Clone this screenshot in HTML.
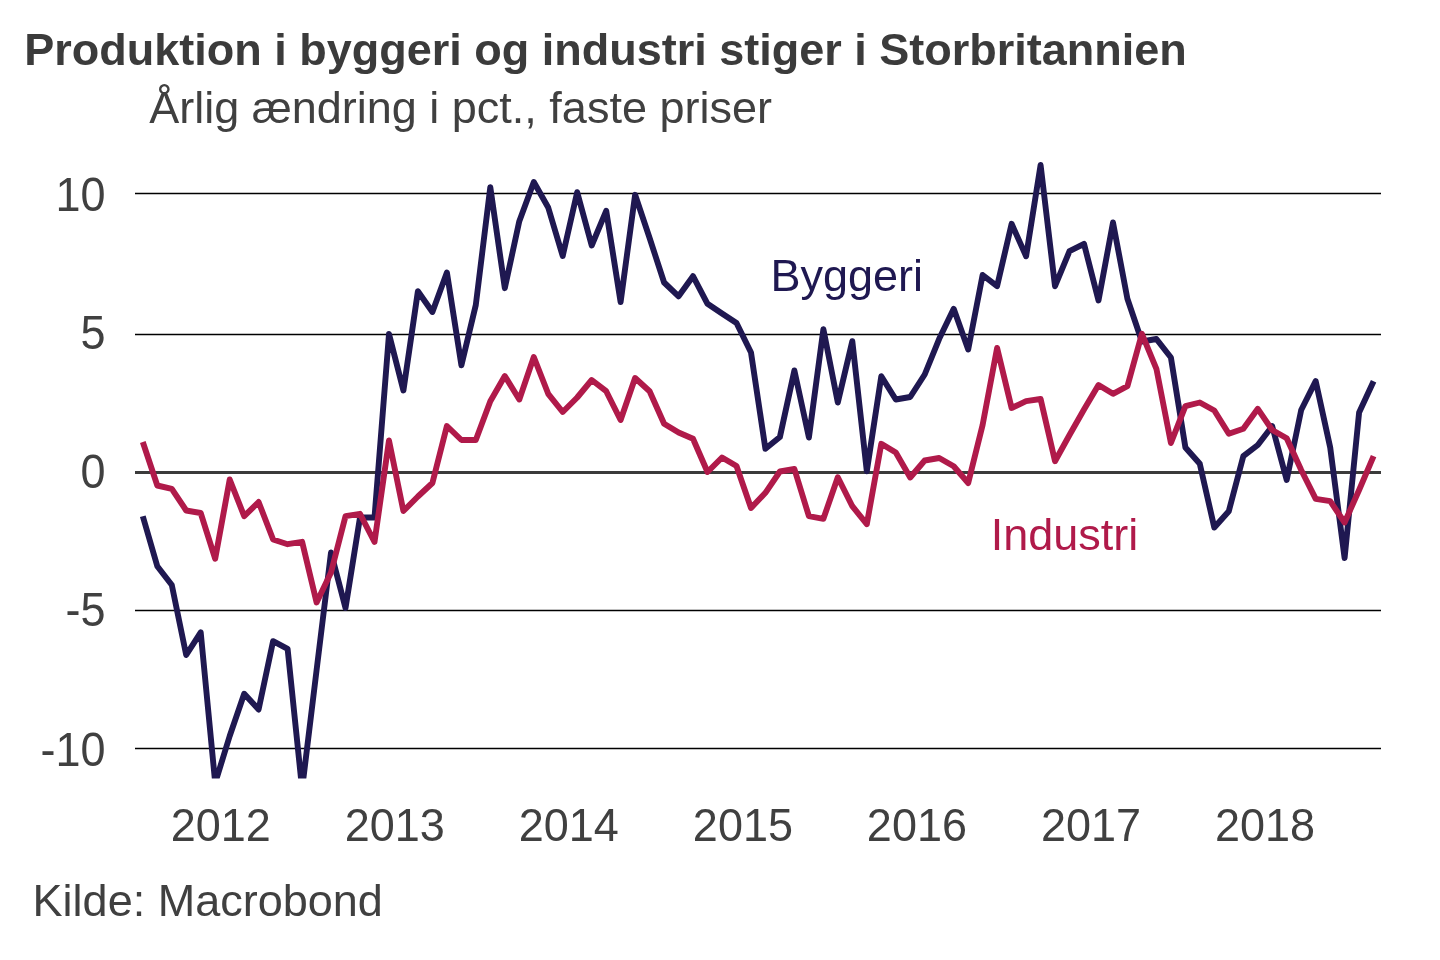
<!DOCTYPE html>
<html lang="da">
<head>
<meta charset="utf-8">
<title>Produktion i byggeri og industri stiger i Storbritannien</title>
<style>
html,body{margin:0;padding:0;background:#fff;}
body{width:1440px;height:960px;overflow:hidden;font-family:"Liberation Sans",sans-serif;}
svg{display:block;}
text{font-family:"Liberation Sans",sans-serif;}
</style>
</head>
<body>
<svg width="1440" height="960" viewBox="0 0 1440 960">
<rect width="1440" height="960" fill="#ffffff"/>
<defs><clipPath id="plot"><rect x="130" y="150" width="1260" height="628.4"/></clipPath></defs>
<text x="24.2" y="65.3" font-size="45" font-weight="bold" fill="#3b3b3b" id="title">Produktion i byggeri og industri stiger i Storbritannien</text>
<text x="149.2" y="122.8" font-size="45" fill="#404040" id="sub">Årlig ændring i pct., faste priser</text>
<line x1="135" x2="1381" y1="193.5" y2="193.5" stroke="#000" stroke-width="1.4"/>
<text transform="translate(105.5,211.00) scale(1,1.065)" font-size="45" fill="#404040" text-anchor="end" class="yl">10</text>
<line x1="135" x2="1381" y1="334.5" y2="334.5" stroke="#000" stroke-width="1.4"/>
<text transform="translate(105.5,349.10) scale(1,1.065)" font-size="45" fill="#404040" text-anchor="end" class="yl">5</text>
<line x1="135" x2="1381" y1="472.5" y2="472.5" stroke="#3b3b3b" stroke-width="3"/>
<text transform="translate(105.5,487.70) scale(1,1.065)" font-size="45" fill="#404040" text-anchor="end" class="yl">0</text>
<line x1="135" x2="1381" y1="610.5" y2="610.5" stroke="#000" stroke-width="1.4"/>
<text transform="translate(105.5,625.75) scale(1,1.065)" font-size="45" fill="#404040" text-anchor="end" class="yl">-5</text>
<line x1="135" x2="1381" y1="748.5" y2="748.5" stroke="#000" stroke-width="1.4"/>
<text transform="translate(105.5,766.40) scale(1,1.065)" font-size="45" fill="#404040" text-anchor="end" class="yl">-10</text>
<text transform="translate(220.7,840.7) scale(1,1.04)" font-size="45" fill="#404040" text-anchor="middle" class="xl">2012</text>
<text transform="translate(394.8,840.7) scale(1,1.04)" font-size="45" fill="#404040" text-anchor="middle" class="xl">2013</text>
<text transform="translate(568.8,840.7) scale(1,1.04)" font-size="45" fill="#404040" text-anchor="middle" class="xl">2014</text>
<text transform="translate(742.9,840.7) scale(1,1.04)" font-size="45" fill="#404040" text-anchor="middle" class="xl">2015</text>
<text transform="translate(916.9,840.7) scale(1,1.04)" font-size="45" fill="#404040" text-anchor="middle" class="xl">2016</text>
<text transform="translate(1091.0,840.7) scale(1,1.04)" font-size="45" fill="#404040" text-anchor="middle" class="xl">2017</text>
<text transform="translate(1265.0,840.7) scale(1,1.04)" font-size="45" fill="#404040" text-anchor="middle" class="xl">2018</text>
<g clip-path="url(#plot)" fill="none" stroke-width="5.9" stroke-linejoin="round" stroke-linecap="butt">
<polyline stroke="#1f1851" points="142.8,516.2 157.3,566.2 171.8,585.0 186.2,655.0 200.7,632.3 215.2,783.0 229.7,736.0 244.2,693.8 258.6,709.5 273.1,641.2 287.6,648.8 302.1,789.0 316.6,670.0 331.0,552.5 345.5,608.0 360.0,517.5 374.5,517.5 389.0,334.0 403.4,390.5 417.9,291.2 432.4,312.0 446.9,272.5 461.4,365.3 475.8,305.0 490.3,187.2 504.8,288.2 519.3,221.2 533.8,182.0 548.2,207.5 562.7,256.0 577.2,192.2 591.7,245.5 606.2,210.8 620.6,302.0 635.1,194.8 649.6,238.0 664.1,282.5 678.6,296.3 693.0,276.2 707.5,303.8 722.0,313.5 736.5,323.0 751.0,352.5 765.4,448.8 779.9,437.0 794.4,370.5 808.9,437.5 823.4,329.2 837.8,402.5 852.3,341.2 866.8,471.2 881.3,376.2 895.8,399.5 910.2,397.0 924.7,374.5 939.2,338.8 953.7,308.8 968.2,349.5 982.6,275.0 997.1,286.2 1011.6,223.8 1026.1,256.2 1040.6,165.0 1055.0,286.2 1069.5,251.2 1084.0,243.8 1098.5,300.5 1113.0,222.5 1127.4,298.8 1141.9,341.5 1156.4,339.0 1170.9,357.5 1185.4,447.5 1199.8,463.8 1214.3,527.5 1228.8,511.2 1243.3,456.2 1257.8,445.0 1272.2,426.2 1286.7,480.0 1301.2,410.0 1315.7,381.2 1330.2,447.5 1344.6,558.0 1359.1,412.5 1373.6,381.2"/>
<polyline stroke="#b01a4a" points="142.8,442.0 157.3,485.5 171.8,488.8 186.2,510.5 200.7,513.0 215.2,558.8 229.7,479.5 244.2,516.2 258.6,502.0 273.1,539.5 287.6,544.2 302.1,541.8 316.6,602.5 331.0,572.5 345.5,516.2 360.0,513.8 374.5,542.0 389.0,440.5 403.4,511.0 417.9,496.5 432.4,483.0 446.9,426.0 461.4,440.0 475.8,440.0 490.3,401.2 504.8,376.0 519.3,399.5 533.8,357.0 548.2,393.8 562.7,412.0 577.2,397.5 591.7,380.0 606.2,391.2 620.6,420.0 635.1,378.0 649.6,391.2 664.1,423.8 678.6,432.5 693.0,438.8 707.5,472.0 722.0,457.5 736.5,466.0 751.0,508.0 765.4,492.8 779.9,471.5 794.4,469.0 808.9,516.2 823.4,518.8 837.8,477.2 852.3,506.2 866.8,524.2 881.3,443.8 895.8,452.5 910.2,477.5 924.7,460.5 939.2,458.0 953.7,466.2 968.2,483.0 982.6,425.0 997.1,348.0 1011.6,408.0 1026.1,401.2 1040.6,399.0 1055.0,461.2 1069.5,435.0 1084.0,409.5 1098.5,385.0 1113.0,393.8 1127.4,386.2 1141.9,333.8 1156.4,368.8 1170.9,443.0 1185.4,406.2 1199.8,402.5 1214.3,410.5 1228.8,433.8 1243.3,428.8 1257.8,408.8 1272.2,430.0 1286.7,438.2 1301.2,470.0 1315.7,498.8 1330.2,501.2 1344.6,522.5 1359.1,490.0 1373.6,456.2"/>
</g>
<text x="770.5" y="290.6" font-size="45" fill="#1f1851" id="byg">Byggeri</text>
<text x="990.7" y="550.2" font-size="45" fill="#b01a4a" id="ind">Industri</text>
<text x="32.6" y="916.2" font-size="45" fill="#404040" id="src">Kilde: Macrobond</text>
</svg>
</body>
</html>
